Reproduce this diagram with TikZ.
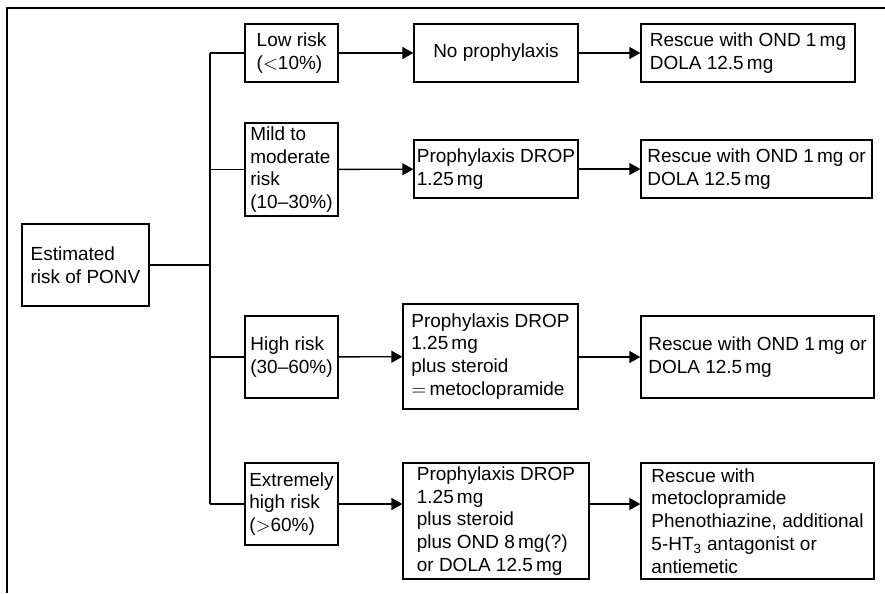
\documentclass[tikz,border=0pt]{standalone}
\usepackage{fontspec}
\setmainfont{Liberation Sans}
\usetikzlibrary{arrows.meta}

\begin{document}
\begin{tikzpicture}[x=0.02cm,y=-0.02cm, line width=0.75pt,
        box/.style={draw, align=left, inner sep=0pt, font=\fontsize{10.8}{13}\selectfont},
        arr/.style={-{Triangle[length=0.22cm,width=0.24cm]}}]

        \useasboundingbox (0,0) rectangle (885,593);

        % Draw frame (only top and left edge show)
        \draw (7,593) -- (7,8) -- (885,8);

        % Start box
        \node[box, minimum width=2.54cm, minimum height=1.64cm] (est) at (85.5,265) {Estimated\\risk of PONV};
        \coordinate (split) at (210,265);

        % Risk groups
        \node[box, minimum width=1.86cm, minimum height=1.16cm] (low) at (291.5,53) {Low risk\\($<$10\%)};
        \node[box, minimum width=1.86cm, minimum height=1.86cm] (mild) at (291.5,169.5) {Mild to\\moderate\\risk\\(10--30\%)};
        \node[box, minimum width=1.86cm, minimum height=1.64cm] (high) at (291.5,357) {High risk\\(30--60\%)};
        \node[box, minimum width=1.86cm, minimum height=1.64cm] (ext) at (291.5,504) {Extremely\\high risk\\($>$60\%)};

        % Prophylaxis
        \node[box, align=center, minimum width=3.28cm, minimum height=1.16cm] (noproph) at (496,53) {No prophylaxis};
        \node[box, minimum width=3.28cm, minimum height=1.16cm] (dropA) at (496,169) {Prophylaxis DROP\\1.25\,mg};
        \node[box, minimum width=3.5cm, minimum height=2.1cm] (dropB) at (490.5,356.5) {Prophylaxis DROP\\1.25\,mg\\plus steroid\\$=$\,metoclopramide};
        \node[box, minimum width=3.72cm, minimum height=2.32cm] (dropC) at (496,521) {Prophylaxis DROP\\1.25\,mg\\plus steroid\\plus OND 8\,mg(?)\\or DOLA 12.5\,mg};

        % Rescue
        \node[box, minimum width=4.28cm, minimum height=1.16cm] (resA) at (748,53) {Rescue with OND 1\,mg\\DOLA 12.5\,mg};
        \node[box, minimum width=4.62cm, minimum height=1.16cm] (resB) at (756.5,169) {Rescue with OND 1\,mg or\\DOLA 12.5\,mg};
        \node[box, minimum width=4.66cm, minimum height=1.64cm] (resC) at (757.5,357) {Rescue with OND 1\,mg or\\DOLA 12.5\,mg};
        \node[box, minimum width=4.66cm, minimum height=2.32cm] (resD) at (757.5,521) {Rescue with\\metoclopramide\\Phenothiazine, additional\\5-HT\textsubscript{3} antagonist or\\antiemetic};

        % Tree lines
        \draw (est) -- (split);
        \draw (split |- low.west) -- (split |- ext.west);
        \foreach \n in {low,mild,high,ext}
            \draw (split |- \n.west) -- (\n);

        % Arrows
        \draw[arr] (low) -- (noproph);
        \draw[arr] (mild) -- (dropA);
        \draw[arr] (high) -- (dropB);
        \draw[arr] (ext) -- (dropC.west |- ext.east);
        \draw[arr] (noproph) -- (resA);
        \draw[arr] (dropA) -- (resB);
        \draw[arr] (dropB.east |- high.east) -- (resC.west |- high.east);
        \draw[arr] (dropC.east |- ext.east) -- (resD.west |- ext.east);
    \end{tikzpicture}
\end{document}
